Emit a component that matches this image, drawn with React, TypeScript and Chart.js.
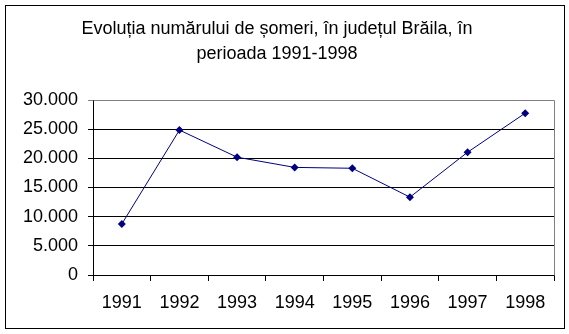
import React, { useEffect, useRef } from "react";
import { Chart, registerables } from "chart.js";

Chart.register(...registerables);

const titleLines = [
  "Evoluția numărului de șomeri, în județul Brăila, în",
  "perioada 1991-1998",
];
const years = ["1991", "1992", "1993", "1994", "1995", "1996", "1997", "1998"];
const unemployed = [8750, 24850, 20200, 18450, 18300, 13350, 21050, 27750];
const yMin = 0;
const yMax = 30000;
const yStep = 5000;

const FONT = "'Liberation Sans', Arial, sans-serif";

const frame = {
  id: "frame",
  beforeDatasetsDraw(chart: any) {
    const { ctx, chartArea } = chart;
    ctx.save();
    ctx.strokeStyle = "#808080";
    ctx.lineWidth = 1;
    ctx.beginPath();
    ctx.moveTo(Math.round(chartArea.left) + 0.5, Math.round(chartArea.top) + 0.5);
    ctx.lineTo(Math.round(chartArea.right) + 0.5, Math.round(chartArea.top) + 0.5);
    ctx.lineTo(Math.round(chartArea.right) + 0.5, Math.round(chartArea.bottom) + 0.5);
    ctx.stroke();
    ctx.restore();
  },
  afterDraw(chart: any) {
    const { ctx } = chart;
    ctx.save();
    ctx.strokeStyle = "#000000";
    ctx.lineWidth = 1;
    ctx.strokeRect(5.5, 5.5, 559, 323);
    ctx.restore();
  },
};

function fmt(v: number) {
  return String(v).replace(/\B(?=(\d{3})+(?!\d))/g, ".");
}

export default function App() {
  const ref = useRef<HTMLCanvasElement>(null);
  useEffect(() => {
    const chart = new Chart(ref.current!, {
      type: "line",
      data: {
        labels: years,
        datasets: [
          {
            data: unemployed,
            borderColor: "#000080",
            backgroundColor: "#000080",
            borderWidth: 1,
            pointStyle: "rectRot",
            pointRadius: 4,
            pointBorderWidth: 0,
            tension: 0,
          },
        ],
      },
      options: {
        animation: false,
        responsive: false,
        layout: { padding: { left: 0, right: 15, top: 0, bottom: 0 } },
        plugins: {
          legend: { display: false },
          tooltip: { enabled: false },
          title: {
            display: true,
            text: titleLines,
            color: "#000000",
            font: { family: FONT, size: 18, weight: "normal", lineHeight: 1.39 },
            padding: { top: 17, bottom: 33 },
          },
        },
        scales: {
          x: {
            offset: true,
            grid: {
              drawOnChartArea: false,
              drawTicks: true,
              tickLength: 6,
              color: "#000000",
              offset: true,
            },
            border: { color: "#000000", width: 1 },
            ticks: {
              color: "#000000",
              font: { family: FONT, size: 18 },
              padding: 11,
              maxRotation: 0,
            },
            afterFit(scale: any) {
              scale.height = 59;
            },
          },
          y: {
            min: yMin,
            max: yMax,
            grid: {
              color: (c: any) => (c.tick && c.tick.value === yMax ? "#808080" : "#000000"),
              tickLength: 5,
              lineWidth: 1,
            },
            border: { color: "#000000", width: 1 },
            ticks: {
              stepSize: yStep,
              color: "#000000",
              font: { family: FONT, size: 18 },
              padding: 10,
              callback: (v: any) => fmt(Number(v)),
            },
            afterFit(scale: any) {
              scale.width = 93;
            },
          },
        },
      },
      plugins: [frame],
    });
    return () => chart.destroy();
  }, []);
  return (
    <div style={{ position: "absolute", left: 0, top: 0, width: 569, height: 334, background: "#fff" }}>
      <canvas ref={ref} width={569} height={334} style={{ width: 569, height: 334 }} />
    </div>
  );
}
